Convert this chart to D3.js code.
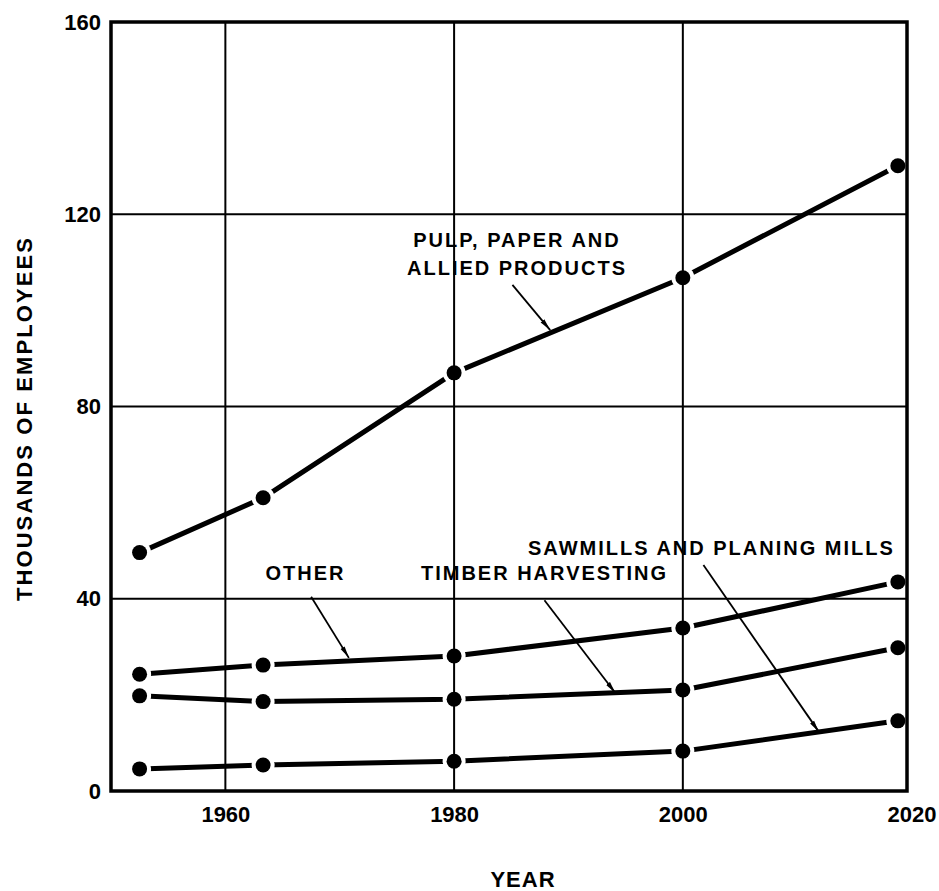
<!DOCTYPE html>
<html>
<head>
<meta charset="utf-8">
<script src="https://cdn.jsdelivr.net/npm/d3@7/dist/d3.min.js"></script>
<style>
  html, body { margin: 0; padding: 0; background: #fff; }
  text { font-family: "Liberation Sans", Arial, Helvetica, sans-serif; fill: #000; }
</style>
</head>
<body>
<svg id="chart" width="939" height="891"></svg>
<script>
// ---- data ----
const years = [1952.5, 1963.3, 1980, 2000, 2018.8];
const pulpPaper = [49.6, 61.0, 87.0, 106.8, 130.1];
const other = [24.3, 26.2, 28.1, 33.9, 43.5];
const timberHarvesting = [19.8, 18.6, 19.1, 21.0, 29.8];
const sawmills = [4.6, 5.4, 6.2, 8.3, 14.6];
const xTicks = [1960, 1980, 2000, 2020];
const yTicks = [0, 40, 80, 120, 160];
const xGrid = [1960, 1980, 2000];
const yGrid = [40, 80, 120];

// label texts and their anchor points (year, value)
const labelTexts = [["PULP, PAPER AND", "ALLIED PRODUCTS"], ["OTHER"], ["TIMBER HARVESTING"], ["SAWMILLS AND PLANING MILLS"]];
const labelAnchors = [[1985.5, 113.2], [1967.0, 43.9], [1987.9, 43.9], [2002.5, 49.1]];
const arrowFrom = [[1985.1, 105.3], [1967.5, 40.4], [1987.9, 39.7], [2001.8, 47.0]];
const arrowTo = [[1988.4, 95.9], [1970.8, 27.7], [1994.1, 20.4], [2011.9, 12.3]];

const series = [pulpPaper, other, timberHarvesting, sawmills];

// ---- layout ----
const svg = d3.select("#chart");
const x = d3.scaleLinear().domain([1950, 2019.6]).range([111, 907]);
const y = d3.scaleLinear().domain([0, 160]).range([791, 22]);
const FONT = '"Liberation Sans", Arial, sans-serif';

// grid
svg.append("g").selectAll("line").data(xGrid).join("line")
  .attr("x1", d => x(d)).attr("x2", d => x(d))
  .attr("y1", y(0)).attr("y2", y(160))
  .attr("stroke", "#000").attr("stroke-width", 2);
svg.append("g").selectAll("line").data(yGrid).join("line")
  .attr("x1", x.range()[0]).attr("x2", x.range()[1])
  .attr("y1", d => y(d)).attr("y2", d => y(d))
  .attr("stroke", "#000").attr("stroke-width", 2);

// frame
svg.append("rect")
  .attr("x", x.range()[0]).attr("y", y(160))
  .attr("width", x.range()[1] - x.range()[0])
  .attr("height", y(0) - y(160))
  .attr("fill", "none").attr("stroke", "#000").attr("stroke-width", 3.5);

// axes labels via d3 axes
const yAxis = svg.append("g").attr("transform", `translate(${x.range()[0]},0)`)
  .call(d3.axisLeft(y).tickValues(yTicks).tickSize(0).tickPadding(10).tickFormat(d3.format("d")));
const xAxis = svg.append("g").attr("transform", `translate(0,${y(0)})`)
  .call(d3.axisBottom(x).tickValues(xTicks).tickSize(0).tickPadding(15).tickFormat(d3.format("d")));
[yAxis, xAxis].forEach(a => {
  a.select(".domain").remove();
  a.selectAll("text")
    .style("font-family", FONT)
    .style("font-size", "22px")
    .style("font-weight", "bold")
    .attr("fill", "#000");
});

// mask for line gaps around markers
const defs = svg.append("defs");
const mask = defs.append("mask").attr("id", "gaps").attr("maskUnits", "userSpaceOnUse")
  .attr("x", 0).attr("y", 0).attr("width", 939).attr("height", 891);
mask.append("rect").attr("x", 0).attr("y", 0).attr("width", 939).attr("height", 891).attr("fill", "#fff");
series.forEach(s => {
  mask.append("g").selectAll("circle").data(s).join("circle")
    .attr("cx", (d, i) => x(years[i])).attr("cy", d => y(d)).attr("r", 11.5).attr("fill", "#000");
});

const line = d3.line().x((d, i) => x(years[i])).y(d => y(d)).curve(d3.curveLinear);
const lines = svg.append("g").attr("mask", "url(#gaps)");
series.forEach(s => {
  lines.append("path").attr("d", line(s))
    .attr("fill", "none").attr("stroke", "#000").attr("stroke-width", 5)
    .attr("stroke-linecap", "round").attr("stroke-linejoin", "round");
});
series.forEach(s => {
  svg.append("g").selectAll("circle").data(s).join("circle")
    .attr("cx", (d, i) => x(years[i])).attr("cy", d => y(d)).attr("r", 7.5).attr("fill", "#000");
});

// arrow marker
defs.append("marker").attr("id", "arr").attr("viewBox", "0 0 12 6")
  .attr("refX", 12).attr("refY", 3).attr("markerWidth", 12).attr("markerHeight", 6)
  .attr("markerUnits", "userSpaceOnUse").attr("orient", "auto")
  .append("path").attr("d", "M0,0.6 L12,3 L0,5.4 Z").attr("fill", "#000");

arrowFrom.forEach((f, i) => {
  const t = arrowTo[i];
  svg.append("line")
    .attr("x1", x(f[0])).attr("y1", y(f[1]))
    .attr("x2", x(t[0])).attr("y2", y(t[1]))
    .attr("stroke", "#000").attr("stroke-width", 1.8)
    .attr("marker-end", "url(#arr)");
});

// labels
labelTexts.forEach((lns, i) => {
  const a = labelAnchors[i];
  const t = svg.append("text")
    .attr("x", x(a[0])).attr("y", y(a[1]))
    .attr("text-anchor", "middle")
    .style("font-size", "20px").style("font-weight", "bold").style("letter-spacing", "2px");
  lns.forEach((l, j) => {
    t.append("tspan").attr("x", x(a[0])).attr("dy", j === 0 ? 0 : 28).text(l);
  });
});

// axis titles
svg.append("text")
  .attr("transform", `translate(32,${(y(0) + y(160)) / 2 + 12}) rotate(-90)`)
  .attr("text-anchor", "middle")
  .style("font-size", "22px").style("font-weight", "bold").style("letter-spacing", "2.1px")
  .text("THOUSANDS OF EMPLOYEES");
svg.append("text")
  .attr("x", 523).attr("y", 887)
  .attr("text-anchor", "middle")
  .style("font-size", "22px").style("font-weight", "bold").style("letter-spacing", "1px")
  .text("YEAR");
</script>
</body>
</html>
